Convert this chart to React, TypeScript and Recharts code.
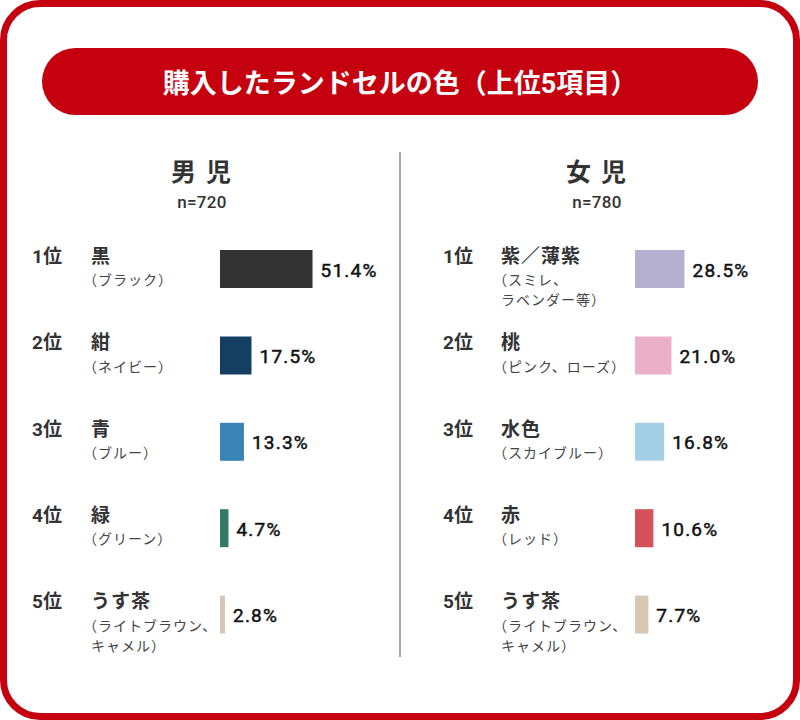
import { BarChart, Bar, XAxis, YAxis, Cell, LabelList } from "recharts";

const ranks = ["1位", "2位", "3位", "4位", "5位"];

const boyColors = ["黒", "紺", "青", "緑", "うす茶"];
const boyNotes = [
  ["（ブラック）"],
  ["（ネイビー）"],
  ["（ブルー）"],
  ["（グリーン）"],
  ["（ライトブラウン、", "キャメル）"],
];
const boyValues = [51.4, 17.5, 13.3, 4.7, 2.8];

const girlColors = ["紫／薄紫", "桃", "水色", "赤", "うす茶"];
const girlNotes = [
  ["（スミレ、", "ラベンダー等）"],
  ["（ピンク、ローズ）"],
  ["（スカイブルー）"],
  ["（レッド）"],
  ["（ライトブラウン、", "キャメル）"],
];
const girlValues = [28.5, 21.0, 16.8, 10.6, 7.7];

const boyFills = ["#333333", "#153f62", "#3884b7", "#347a66", "#d8c6b7"];
const girlFills = ["#b5b0cf", "#ebb0c8", "#a4d0e6", "#d55159", "#d8c6b7"];

const FONT = "Roboto, 'Noto Sans CJK JP', sans-serif";
const RED = "#c5000f";

const makeRows = (names: string[], notes: string[][], values: number[]) =>
  names.map((name, i) => ({ name, rank: ranks[i], notes: notes[i], value: values[i] }));

const RowTick = (props: any) => {
  const { y, payload, rows, rankX, nameX } = props;
  const row = rows.find((r: any) => r.name === payload.value);
  if (!row) return null;
  return (
    <g>
      <text x={rankX} y={y - 13} dominantBaseline="central" fontSize={19} fontWeight={700} fill="#333" fontFamily={FONT}>
        {row.rank}
      </text>
      <text x={nameX} y={y - 13} dominantBaseline="central" fontSize={19} fontWeight={700} fill="#333" fontFamily={FONT} letterSpacing={1}>
        {row.name}
      </text>
      {row.notes.map((line: string, i: number) => (
        <text
          key={i}
          // full-width paren carries its own left padding
          x={line.startsWith("（") ? nameX - 8 : nameX}
          y={y + 11 + i * 20}
          dominantBaseline="central"
          fontSize={14}
          fill="#444"
          fontFamily={FONT}
          letterSpacing={1}
        >
          {line}
        </text>
      ))}
    </g>
  );
};

const ValueLabel = (props: any) => {
  const { x, y, width, height, value } = props;
  return (
    <text
      x={x + width + 8}
      y={y + height / 2 + 1}
      dominantBaseline="central"
      fontSize={19}
      fontWeight={400}
      stroke="#111"
      strokeWidth={0.5}
      letterSpacing={1.2}
      fill="#111"
      fontFamily={FONT}
    >
      {value.toFixed(1)}%
    </text>
  );
};

const RankChart = ({ rows, fills, axisWidth, max, rankX, nameX }: any) => (
  <BarChart
    width={400}
    height={460}
    data={rows}
    layout="vertical"
    margin={{ top: 16, right: 0, bottom: 12, left: 0 }}
  >
    <XAxis type="number" domain={[0, max]} hide />
    <YAxis
      type="category"
      dataKey="name"
      width={axisWidth}
      axisLine={false}
      tickLine={false}
      interval={0}
      tick={(p: any) => <RowTick {...p} rows={rows} rankX={rankX} nameX={nameX} />}
    />
    <Bar dataKey="value" barSize={38} isAnimationActive={false}>
      {rows.map((r: any, i: number) => (
        <Cell key={r.name} fill={fills[i]} />
      ))}
      <LabelList dataKey="value" content={ValueLabel} />
    </Bar>
  </BarChart>
);

const headStyle: any = {
  position: "absolute",
  top: 159,
  width: 200,
  textAlign: "center",
  fontSize: 25,
  lineHeight: "28px",
  fontWeight: 700,
  color: "#333",
  letterSpacing: 2,
};
const countStyle: any = {
  position: "absolute",
  top: 193,
  width: 200,
  textAlign: "center",
  fontSize: 17,
  lineHeight: "18px",
  fontWeight: 500,
  color: "#333",
  letterSpacing: 0.3,
};

const App = () => {
  const boys = makeRows(boyColors, boyNotes, boyValues);
  const girls = makeRows(girlColors, girlNotes, girlValues);
  return (
    <div style={{ position: "relative", width: 800, height: 720, background: "#fff", fontFamily: FONT, overflow: "hidden" }}>
      <style>{"body{margin:0}"}</style>
      <div
        style={{
          position: "absolute",
          inset: 0,
          border: `7px solid ${RED}`,
          borderRadius: 40,
          boxSizing: "border-box",
        }}
      />
      <div
        style={{
          position: "absolute",
          left: 42,
          top: 48,
          width: 716,
          height: 67,
          borderRadius: 34,
          background: RED,
          color: "#fff",
          display: "flex",
          alignItems: "center",
          justifyContent: "center",
          fontSize: 27,
          fontWeight: 700,
        }}
      >
        購入したランドセルの色（上位5項目）
      </div>

      <div style={{ ...headStyle, left: 102 }}>男 児</div>
      <div style={{ ...countStyle, left: 102 }}>n=720</div>
      <div style={{ ...headStyle, left: 497 }}>女 児</div>
      <div style={{ ...countStyle, left: 497 }}>n=780</div>

      <div style={{ position: "absolute", left: 399, top: 152, width: 2, height: 505, background: "#b3a3a7" }} />

      <div style={{ position: "absolute", left: 0, top: 210 }}>
        <RankChart rows={boys} fills={boyFills} axisWidth={220} max={100} rankX={32} nameX={91} />
      </div>
      <div style={{ position: "absolute", left: 400, top: 210 }}>
        <RankChart rows={girls} fills={girlFills} axisWidth={235} max={95} rankX={43} nameX={101} />
      </div>
    </div>
  );
};

export default App;
